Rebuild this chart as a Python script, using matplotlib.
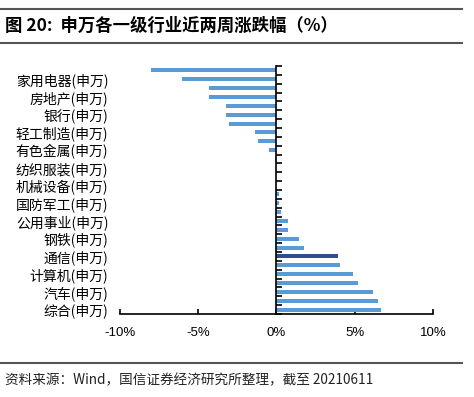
import numpy as np
import matplotlib
matplotlib.use('Agg')
import matplotlib.pyplot as plt
from matplotlib.lines import Line2D

plt.rcParams['font.family'] = ['Noto Sans CJK SC', 'DejaVu Sans']

# 28 industries top to bottom, only every other one is labelled in the source
values = [-8.0, -6.0, -4.3, -4.3, -3.25, -3.2, -3.0, -1.38, -1.15, -0.45,
          -0.1, 0.0, 0.0, 0.0, 0.15, 0.17, 0.28, 0.74, 0.76, 1.42,
          1.76, 3.92, 4.05, 4.85, 5.17, 6.17, 6.48, 6.65]
labels = ['家用电器(申万)', '房地产(申万)', '银行(申万)', '轻工制造(申万)',
          '有色金属(申万)', '纺织服装(申万)', '机械设备(申万)', '国防军工(申万)',
          '公用事业(申万)', '钢铁(申万)', '通信(申万)', '计算机(申万)',
          '汽车(申万)', '综合(申万)']
highlight = '通信(申万)'
xticks = [-10, -5, 0, 5, 10]

light = '#5B9BD5'
dark = '#2E4F8F'

n = len(values)
pos = np.arange(n)
label_pos = pos[1::2]
hl_idx = label_pos[labels.index(highlight)]
colors = [dark if i == hl_idx else light for i in range(n)]

fig = plt.figure(figsize=(4.74, 3.97), dpi=100)
ax = fig.add_axes([0.2525, 0.209, 0.6616, 0.6247])

ax.barh(pos, values, height=0.45, color=colors, zorder=2)
ax.set_ylim(n - 0.5, -0.5)
ax.set_xlim(-10, 10)

for s in ['top', 'right']:
    ax.spines[s].set_visible(False)
ax.spines['left'].set_position(('data', 0))
ax.spines['left'].set_linewidth(1.2)
ax.spines['bottom'].set_linewidth(1.2)

ax.set_yticks(label_pos)
ax.set_yticklabels(labels, fontsize=10)
ax.set_yticks(np.arange(n + 1) - 0.5, minor=True)
ax.tick_params(axis='y', which='major', length=0, pad=121)
ax.tick_params(axis='y', which='minor', direction='in', length=4, width=1.2)

ax.set_xticks(xticks)
ax.set_xticklabels([f'{t}%' for t in xticks], fontsize=9.5, family='Liberation Sans')
ax.tick_params(axis='x', direction='in', length=3.5, width=1.2, pad=9)

# title and footer with rules
fig.add_artist(Line2D([0.0, 0.975], [0.977, 0.977], color='#555555', lw=1.5))
fig.add_artist(Line2D([0.0, 0.975], [0.892, 0.892], color='#555555', lw=1.5))
fig.text(0.01, 0.935, '图 20:  申万各一级行业近两周涨跌幅（%）', fontsize=12.5,
         fontweight='bold', va='center', ha='left')
fig.add_artist(Line2D([0.0, 0.975], [0.086, 0.086], color='#555555', lw=1.5))
fig.text(0.01, 0.043, '资料来源：Wind，国信证券经济研究所整理，截至 20210611',
         fontsize=9.8, va='center', ha='left', color='#222222')

fig.savefig('out.png', dpi=100)
